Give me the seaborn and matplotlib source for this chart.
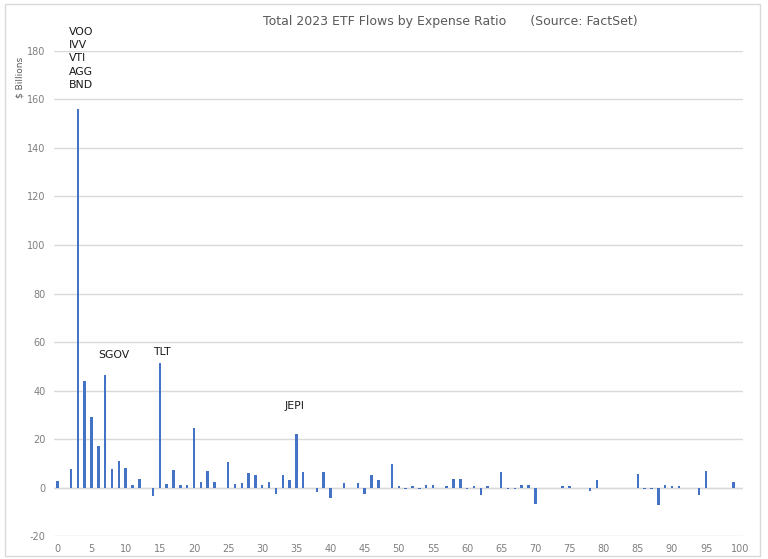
import matplotlib
matplotlib.use("Agg")
import matplotlib.pyplot as plt
import seaborn as sns
from matplotlib.patches import Rectangle

# Total 2023 ETF flows ($ billions) by expense ratio bucket (bps)
ratios = list(range(101))
flows = [
    2.5, 0, 7.8, 156, 44, 29, 17, 46.5, 7.6, 10.8,
    8.1, 1.2, 3.6, 0, -3.7, 51.5, 1.4, 7.2, 1.0, 1.2,
    24.5, 2.2, 7.0, 2.3, 0, 10.6, 1.5, 1.9, 6.1, 5.1,
    1.2, 2.2, -2.6, 5.2, 3.3, 22.2, 6.5, 0, -2.0, 6.6,
    -4.4, 0, 1.9, 0, 1.9, -2.5, 5.0, 3.0, 0, 9.7,
    0.5, -0.7, 0.7, -0.6, 1.0, 1.0, 0, 0.8, 3.4, 3.4,
    -0.5, 0.5, -3.2, 0.5, 0, 6.5, -0.6, -0.5, 1.0, 1.1,
    -7.0, 0, 0, 0, 0.8, 0.8, 0, 0, -1.5, 2.9,
    0, 0, 0, 0, 0, 5.4, -0.7, -0.7, -7.2, 1.0,
    0.8, 0.7, 0, 0, -3.2, 6.8, -0.4, -0.4, 0, 2.3,
    0,
]

# labels for the big funds
labels = ["VOO\nIVV\nVTI\nAGG\nBND", "SGOV", "TLT", "JEPI"]
label_x = [1.7, 6.0, 13.95, 33.2]
label_y = [190, 54.5, 56, 33.5]

sns.set_style("white")
plt.rcParams["font.family"] = ["DejaVu Sans"]
plt.rcParams["axes.unicode_minus"] = False

fig = plt.figure(figsize=(7.68, 5.59), dpi=100)
ax = fig.add_axes([0.0703, 0.0411, 0.8971, 0.8677])

sns.barplot(x=ratios, y=flows, native_scale=True, width=0.36, color="#4472C4",
            saturation=1, linewidth=0, errorbar=None, ax=ax)

ax.set_xlim(-0.5, 100.4)
ax.set_ylim(-20, 180)
ax.set_yticks(range(-20, 181, 20))
ax.set_xticks(range(0, 101, 5))
ax.yaxis.grid(True, color="#d9d9d9", linewidth=1)
ax.set_axisbelow(True)
for s in ax.spines.values():
    s.set_visible(False)
ax.axhline(0, color="#d9d9d9", linewidth=1, zorder=0)
ax.tick_params(axis="both", length=0, labelsize=7, labelcolor="#7f7f7f", pad=6)
ax.set_xlabel("")
ax.set_ylabel("")

for t, x, y in zip(labels, label_x, label_y):
    ax.text(x, y, t, fontsize=7.8, color="#1a1a1a", ha="left",
            va="top" if "\n" in t else "center", linespacing=1.42, clip_on=False)

fig.text(0.586, 0.961, "Total 2023 ETF Flows by Expense Ratio      (Source: FactSet)",
         ha="center", va="center", fontsize=9, color="#595959")
fig.text(0.026, 0.862, "$ Billions", rotation=90, ha="center", va="center",
         fontsize=6.5, color="#595959")

fig.patches.append(Rectangle((0.006, 0.006), 0.984, 0.987, transform=fig.transFigure,
                             fill=False, edgecolor="#d9d9d9", linewidth=1))

fig.savefig("out.png", dpi=100)
